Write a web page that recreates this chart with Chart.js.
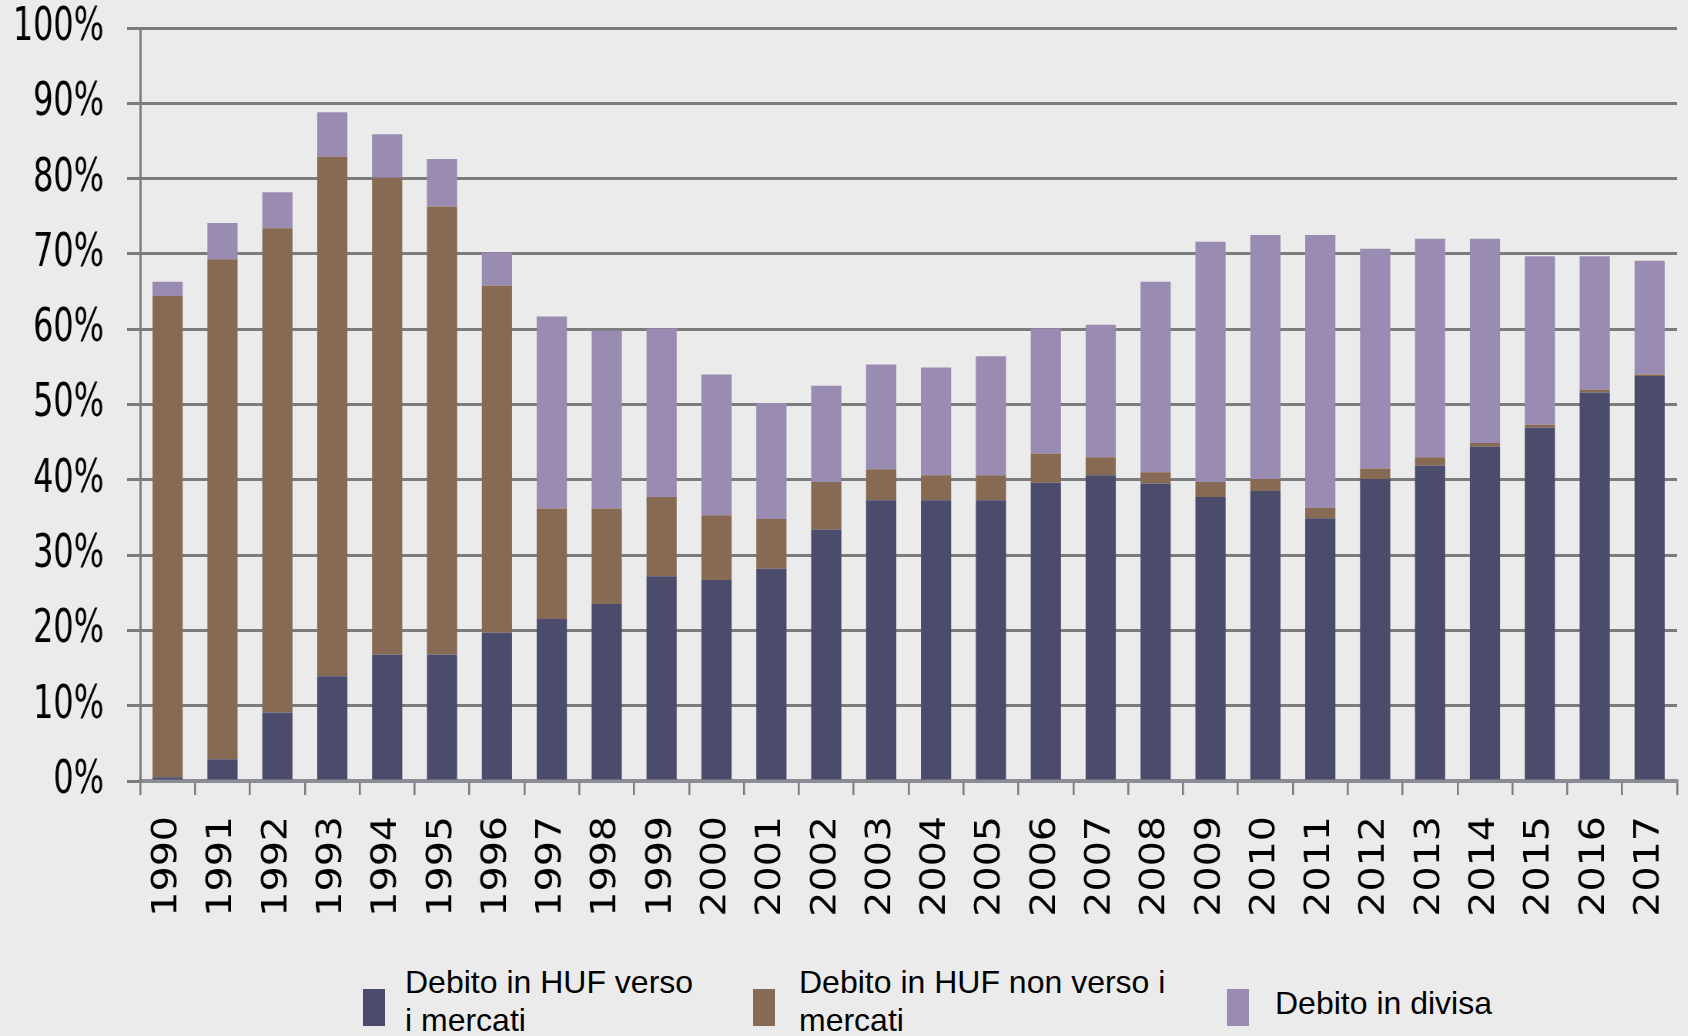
<!DOCTYPE html>
<html>
<head>
<meta charset="utf-8">
<script src="https://cdn.jsdelivr.net/npm/chart.js@4.4.0/dist/chart.umd.min.js"></script>
<style>
  html, body { margin: 0; padding: 0; background: #ebebeb; overflow: hidden; }
  #page { position: relative; width: 1688px; height: 1036px; overflow: hidden; }
  /* the source chart is squeezed horizontally, so the plot is drawn wider and scaled down */
  #plot { position: absolute; left: 0; top: 0; width: 2192px; height: 940px; transform: scaleX(0.77); transform-origin: 0 0; }
  .legend-box { position: absolute; width: 22px; height: 37px; top: 989px; }
  .legend-text { position: absolute; font-family: "Liberation Sans", Arial, sans-serif; font-size: 32px; line-height: 38px; color: #000; }
</style>
</head>
<body>
<div id="page">
  <div id="plot"><canvas id="chart" width="2192" height="940"></canvas></div>
  <div id="legend"></div>
</div>
<script>
const years = ['1990', '1991', '1992', '1993', '1994', '1995', '1996', '1997', '1998', '1999',
  '2000', '2001', '2002', '2003', '2004', '2005', '2006', '2007', '2008', '2009',
  '2010', '2011', '2012', '2013', '2014', '2015', '2016', '2017'];

// share of total debt, %
const hufMarket = [0.5, 2.9, 9.1, 13.9, 16.8, 16.8, 19.7, 21.5, 23.5, 27.2,
  26.7, 28.2, 33.4, 37.3, 37.3, 37.3, 39.6, 40.6, 39.5, 37.7,
  38.5, 34.9, 40.1, 41.9, 44.4, 46.9, 51.6, 53.8];
const hufNonMarket = [63.9, 66.4, 64.3, 69.0, 63.3, 59.5, 46.1, 14.7, 12.7, 10.5,
  8.6, 6.6, 6.3, 4.1, 3.3, 3.3, 3.9, 2.4, 1.5, 2.0,
  1.6, 1.4, 1.4, 1.1, 0.5, 0.4, 0.4, 0.2];
const foreignCurrency = [1.9, 4.8, 4.8, 5.9, 5.8, 6.3, 4.4, 25.5, 23.6, 22.4,
  18.7, 15.4, 12.8, 13.9, 14.3, 15.8, 16.6, 17.6, 25.3, 31.9,
  32.4, 36.2, 29.2, 29.0, 27.1, 22.4, 17.7, 15.1];

const seriesNames = ['Debito in HUF verso i mercati', 'Debito in HUF non verso i mercati', 'Debito in divisa'];
const seriesColors = ['#4b4b6b', '#876a53', '#998bb2'];

const yMin = 0, yMax = 100, yStep = 10;

const tickFont = '"DejaVu Sans Condensed", "DejaVu Sans", sans-serif';
const gridColor = '#7c7c7c';

const chart = new Chart(document.getElementById('chart'), {
  type: 'bar',
  data: {
    labels: years,
    datasets: [hufMarket, hufNonMarket, foreignCurrency].map((values, i) => ({
      label: seriesNames[i],
      data: values,
      backgroundColor: seriesColors[i],
      borderWidth: 0,
      categoryPercentage: 1,
      barPercentage: 0.55
    }))
  },
  options: {
    responsive: false,
    animation: false,
    layout: { padding: { top: 28, right: 14, bottom: 0, left: 0 } },
    plugins: { legend: { display: false }, tooltip: { enabled: false } },
    scales: {
      x: {
        stacked: true,
        offset: true,
        afterFit: s => { s.height = 159; s.paddingLeft = 0; s.paddingRight = 0; },
        grid: { offset: true, drawOnChartArea: false, drawTicks: true, tickLength: 14, color: gridColor, lineWidth: 2.6 },
        border: { display: true, color: '#8c8c96', width: 4 },
        ticks: { autoSkip: false, minRotation: 90, maxRotation: 90, padding: 21, color: '#000', font: { family: tickFont, size: 44 } }
      },
      y: {
        stacked: true,
        min: yMin,
        max: yMax,
        afterFit: s => { s.width = 182; s.paddingTop = 0; s.paddingBottom = 0; },
        grid: { color: gridColor, lineWidth: 3, tickLength: 17 },
        border: { display: true, color: gridColor, width: 3 },
        ticks: { stepSize: yStep, padding: 30, color: '#000', font: { family: tickFont, size: 46 }, callback: v => v + '%' }
      }
    }
  }
});

// legend drawn as html under the plot, two-line labels like the source
const legendSpots = [
  { box: 363, text: 405, top: 963, width: 295 },
  { box: 753, text: 799, top: 963, width: 380 },
  { box: 1227, text: 1275, top: 984, width: 400 }
];
const legend = document.getElementById('legend');
chart.data.datasets.forEach((ds, i) => {
  const spot = legendSpots[i];
  const box = document.createElement('div');
  box.className = 'legend-box';
  box.style.left = spot.box + 'px';
  box.style.background = ds.backgroundColor;
  const txt = document.createElement('div');
  txt.className = 'legend-text';
  txt.style.left = spot.text + 'px';
  txt.style.top = spot.top + 'px';
  txt.style.width = spot.width + 'px';
  txt.textContent = ds.label;
  legend.appendChild(box);
  legend.appendChild(txt);
});
</script>
</body>
</html>
